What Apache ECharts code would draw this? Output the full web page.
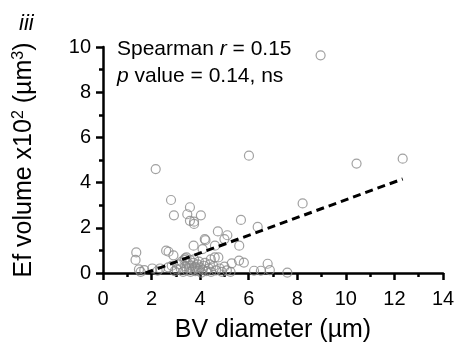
<!DOCTYPE html>
<html><head><meta charset="utf-8">
<script src="https://cdn.jsdelivr.net/npm/echarts@6/dist/echarts.min.js"></script>
<style>html,body{margin:0;padding:0;background:#fff}#c{width:465px;height:344px}</style>
</head><body><div id="c"></div>
<script>
const bvDiameter = [8.96,6.01,10.44,12.34,2.17,8.22,2.80,2.92,3.58,3.47,4.03,3.58,3.75,3.75,5.68,6.37,4.73,5.12,5.00,4.19,4.22,4.61,3.73,4.10,5.61,1.37,1.34,2.60,2.70,2.90,3.44,3.58,3.75,3.95,4.75,4.60,4.44,5.60,5.80,6.78,5.30,6.22,6.50,6.87,7.59,1.48,1.70,2.03,2.35,2.69,3.03,2.83,3.38,3.10,3.24,3.38,3.45,3.50,3.55,3.60,3.65,3.70,3.72,3.78,3.80,3.85,3.90,3.95,4.00,4.05,4.10,4.15,4.25,4.35,4.45,4.55,4.65,4.80,4.90,5.00,5.10,5.25,3.30,3.20,2.95,3.35,4.20,4.40,1.55,2.25];
const efVolume   = [9.63,5.19,4.84,5.06,4.60,3.08,3.23,2.55,2.91,2.60,2.55,2.31,2.27,2.17,2.35,2.04,1.84,1.67,1.50,1.50,1.45,1.21,1.21,1.06,1.21,0.91,0.58,0.99,0.94,0.78,0.69,0.58,0.60,0.50,0.69,0.69,0.60,0.55,0.46,0.41,0.43,0.10,0.10,0.13,0.02,0.16,0.13,0.20,0.20,0.25,0.16,0.32,0.65,0.38,0.50,0.30,0.12,0.42,0.22,0.05,0.33,0.15,0.45,0.28,0.08,0.20,0.38,0.10,0.25,0.02,0.15,0.32,0.08,0.20,0.05,0.30,0.12,0.20,0.05,0.28,0.12,0.05,0.05,0.20,0.08,0.58,0.45,0.38,0.05,0.10];
const fitX = [1.75, 12.34];
const fitY = [0.00, 4.16];
const xTicks = [0,2,4,6,8,10,12,14];
const yTicks = [0,2,4,6,8,10];

const FONT = 'Liberation Sans, Arial, sans-serif';
const chart = echarts.init(document.getElementById('c'), null, {renderer:'canvas'});
function axisCommon(margin){
  return {
    axisLine:{show:true,onZero:false,lineStyle:{color:'#000',width:2.5}},
    axisTick:{show:true,length:7,lineStyle:{color:'#000',width:2.5}},
    minorTick:{show:true,splitNumber:2,length:4,lineStyle:{color:'#000',width:2.5}},
    splitLine:{show:false},
    axisLabel:{color:'#000',fontSize:20,fontFamily:FONT,margin:margin}
  };
}
chart.setOption({
  animation:false,
  grid:{left:103,right:22,top:47,bottom:71,containLabel:false,outerBoundsMode:'none'},
  xAxis:Object.assign({type:'value',min:xTicks[0],max:xTicks[xTicks.length-1],interval:2,
    name:'BV diameter (µm)',nameLocation:'middle',nameGap:45,
    nameTextStyle:{color:'#000',fontSize:25,fontFamily:FONT}},axisCommon(16)),
  yAxis:Object.assign({type:'value',min:yTicks[0],max:yTicks[yTicks.length-1],interval:2,
    name:'Ef volume x10{s|2} (µm{s|3})',nameLocation:'middle',nameGap:66,nameRotate:90,
    nameTextStyle:{color:'#000',fontSize:25,fontFamily:FONT,
      rich:{s:{fontSize:16,verticalAlign:'top',padding:[0,0,10,0],fontFamily:FONT,color:'#000'}}}},axisCommon(12)),
  title:[
    {text:'iii',left:14,top:8,textStyle:{fontSize:22,fontStyle:'italic',fontWeight:'normal',color:'#000',fontFamily:FONT}},
    {text:'Spearman {i|r} = 0.15\n{i|p} value = 0.14, ns',left:112,top:31,
     textStyle:{fontSize:21,fontWeight:'normal',color:'#000',fontFamily:FONT,lineHeight:27,
       rich:{i:{fontStyle:'italic',fontSize:21,fontFamily:FONT,color:'#000'}}}}
  ],
  series:[
    {type:'scatter',data:bvDiameter.map((x,i)=>[x,efVolume[i]]),symbol:'circle',symbolSize:9,
     itemStyle:{color:'rgba(0,0,0,0)',borderColor:'#8a8a8a',borderWidth:1.2},z:2},
    {type:'line',data:fitX.map((x,i)=>[x,fitY[i]]),symbol:'none',
     lineStyle:{color:'#000',width:3,type:[8,5]},z:3}
  ]
});
</script></body></html>
